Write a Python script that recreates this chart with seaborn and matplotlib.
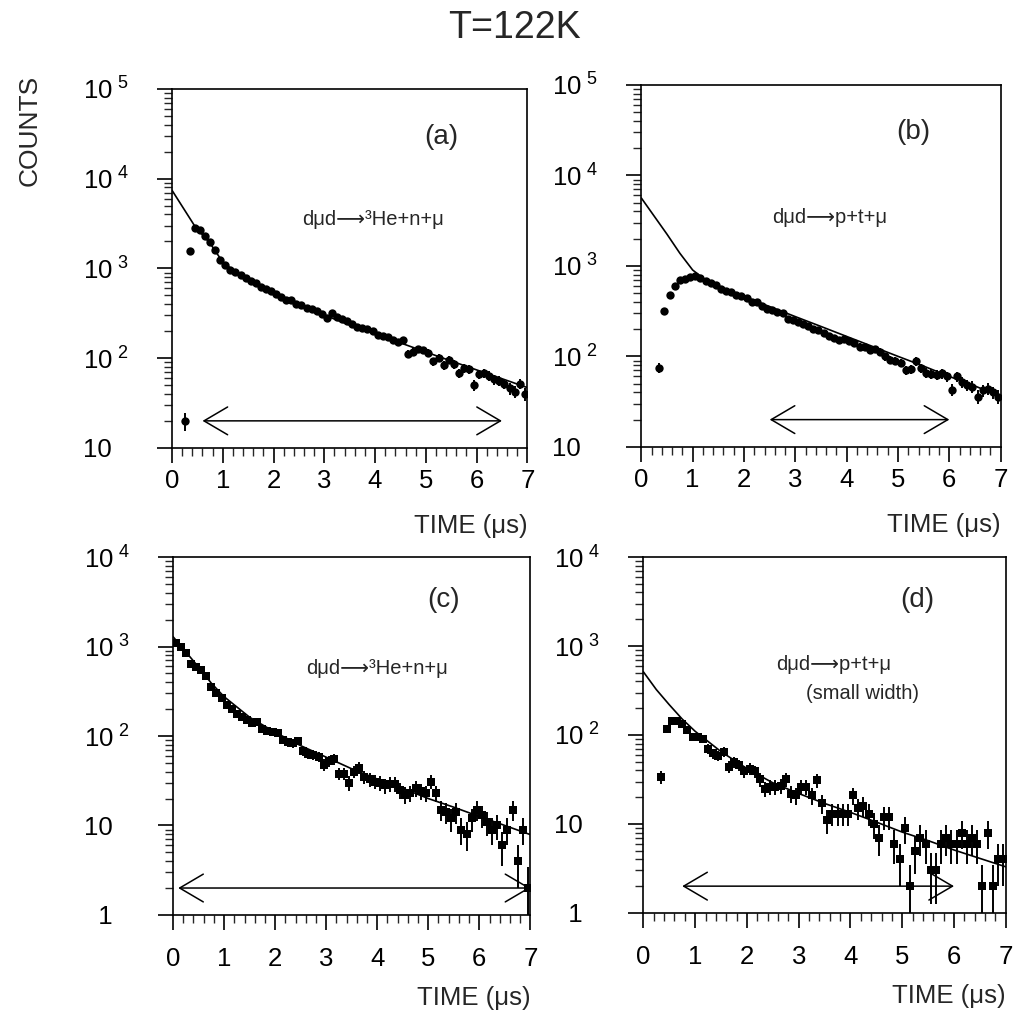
import numpy as np
import pandas as pd
import matplotlib
matplotlib.use("Agg")
import matplotlib.pyplot as plt
from matplotlib.ticker import LogLocator, MultipleLocator, NullFormatter
import seaborn as sns

# ---------------- data ----------------
a_t = [0.25, 0.35, 0.45, 0.55, 0.65, 0.75, 0.85, 0.95, 1.05, 1.15, 1.25, 1.35, 1.45, 1.55, 1.65,
       1.75, 1.85, 1.95, 2.05, 2.15, 2.25, 2.35, 2.45, 2.55, 2.65, 2.75, 2.85, 2.95, 3.05, 3.15,
       3.25, 3.35, 3.45, 3.55, 3.65, 3.75, 3.85, 3.95, 4.05, 4.15, 4.25, 4.35, 4.45, 4.55, 4.65,
       4.75, 4.85, 4.95, 5.05, 5.15, 5.25, 5.35, 5.45, 5.55, 5.65, 5.75, 5.85, 5.95, 6.05, 6.15,
       6.25, 6.35, 6.45, 6.55, 6.65, 6.75, 6.85, 6.95]
a_counts = [20, 1550, 2800, 2650, 2300, 1950, 1600, 1250, 1080, 960, 920, 850, 780, 730, 690,
            620, 590, 560, 520, 480, 450, 440, 400, 390, 360, 350, 335, 310, 280, 320,
            290, 270, 260, 240, 220, 215, 210, 200, 180, 178, 172, 160, 150, 158, 112,
            118, 125, 122, 115, 92, 100, 83, 95, 85, 68, 78, 76, 50, 66, 68,
            64, 58, 56, 52, 46, 42, 52, 40]
a_fit_t = [0, 0.45, 0.75, 1.0, 1.25, 1.5, 2.0, 2.5, 3.0, 3.5, 4.0, 4.5, 5.0, 5.5, 6.0, 6.5, 7.0]
a_fit = [7413, 2951, 1905, 1175, 912, 759, 537, 398, 302, 234, 186, 148, 117, 93, 74, 59, 47]

b_t = [0.35, 0.45, 0.55, 0.65, 0.75, 0.85, 0.95, 1.05, 1.15, 1.25, 1.35, 1.45, 1.55, 1.65,
       1.75, 1.85, 1.95, 2.05, 2.15, 2.25, 2.35, 2.45, 2.55, 2.65, 2.75, 2.85, 2.95, 3.05, 3.15,
       3.25, 3.35, 3.45, 3.55, 3.65, 3.75, 3.85, 3.95, 4.05, 4.15, 4.25, 4.35, 4.45, 4.55, 4.65,
       4.75, 4.85, 4.95, 5.05, 5.15, 5.25, 5.35, 5.45, 5.55, 5.65, 5.75, 5.85, 5.95, 6.05, 6.15,
       6.25, 6.35, 6.45, 6.55, 6.65, 6.75, 6.85, 6.95]
b_counts = [75, 316, 480, 600, 700, 720, 750, 770, 740, 680, 640, 610, 560, 530,
            520, 480, 460, 440, 400, 395, 360, 330, 325, 310, 300, 260, 250, 240, 230,
            215, 200, 195, 182, 170, 160, 150, 155, 148, 140, 128, 126, 118, 120, 112,
            100, 92, 90, 85, 70, 72, 88, 74, 66, 64, 63, 65, 60, 43, 60,
            52, 48, 46, 36, 42, 44, 40, 36]
b_fit_t = [0, 0.25, 0.5, 0.75, 1.0, 1.25, 1.5, 2.0, 2.5, 3.0, 3.5, 4.0, 4.5, 5.0, 5.5, 6.0, 6.5, 7.0]
b_fit = [5623, 3548, 2238, 1380, 900, 700, 589, 457, 355, 275, 214, 166, 129, 100, 78, 60, 47, 36]

c_t = [0.05, 0.15, 0.25, 0.35, 0.45, 0.55, 0.65, 0.75, 0.85, 0.95, 1.05, 1.15, 1.25, 1.35, 1.45,
       1.55, 1.65, 1.75, 1.85, 1.95, 2.05, 2.15, 2.25, 2.35, 2.45, 2.55, 2.65, 2.75, 2.85, 2.95,
       3.05, 3.15, 3.25, 3.35, 3.45, 3.55, 3.65, 3.75, 3.85, 3.95, 4.05, 4.15, 4.25, 4.35, 4.45,
       4.55, 4.65, 4.75, 4.85, 4.95, 5.05, 5.15, 5.25, 5.35, 5.45, 5.55, 5.65, 5.75, 5.85, 5.95,
       6.05, 6.15, 6.25, 6.35, 6.45, 6.55, 6.65, 6.75, 6.85, 6.95]
c_counts = [1100, 1000, 850, 630, 590, 550, 470, 355, 300, 265, 220, 200, 178, 165, 150,
            138, 145, 120, 115, 112, 107, 90, 85, 83, 89, 68, 63, 62, 59, 48,
            52, 55, 38, 38, 30, 40, 44, 35, 33, 31, 30, 28, 29, 29, 25,
            22, 23, 26, 24, 23, 31, 23, 15, 14, 12, 14, 9, 8, 12, 15,
            13, 11, 9, 10, 6, 9, 15, 4, 9, 2]
c_fit_t = [0, 0.25, 0.5, 0.75, 1.0, 1.5, 2.0, 2.5, 3.0, 3.5, 4.0, 4.5, 5.0, 5.5, 6.0, 6.5, 7.0]
c_fit = [1288, 871, 589, 389, 275, 162, 110, 78, 58, 43, 33, 26, 20, 16, 12.6, 10, 7.9]

d_t = [0.35, 0.45, 0.55, 0.65, 0.75, 0.85, 0.95, 1.05, 1.15, 1.25, 1.35, 1.45, 1.55, 1.65,
       1.75, 1.85, 1.95, 2.05, 2.15, 2.25, 2.35, 2.45, 2.55, 2.65, 2.75, 2.85, 2.95, 3.05, 3.15,
       3.25, 3.35, 3.45, 3.55, 3.65, 3.75, 3.85, 3.95, 4.05, 4.15, 4.25, 4.35, 4.45, 4.55, 4.65,
       4.75, 4.85, 4.95, 5.05, 5.15, 5.25, 5.35, 5.45, 5.55, 5.65, 5.75, 5.85, 5.95, 6.05, 6.15,
       6.25, 6.35, 6.45, 6.55, 6.65, 6.75, 6.85, 6.95]
d_counts = [34, 117, 145, 145, 132, 115, 96, 96, 90, 70, 62, 58, 65, 44,
            50, 46, 39, 42, 39, 32, 25, 26, 26, 27, 32, 22, 21, 26, 26,
            21, 31, 17, 11, 13, 13, 13, 13, 21, 15, 16, 13, 10, 7, 12,
            12, 6, 4, 9, 2, 5, 7, 6, 3, 3, 6, 7, 6, 6, 8,
            6, 7, 6, 2, 8, 2, 4, 4]
d_fit_t = [0, 0.25, 0.5, 0.75, 1.0, 1.5, 2.0, 2.5, 3.0, 3.5, 4.0, 4.5, 5.0, 5.5, 6.0, 6.5, 7.0]
d_fit = [513, 324, 219, 151, 110, 65, 42, 29, 22, 17, 13.5, 10.5, 8.1, 6.5, 5.1, 4.1, 3.3]

top_yticks = [10, 1e2, 1e3, 1e4, 1e5]
top_ylabels = ["10", "10$^{\\ 2}$", "10$^{\\ 3}$", "10$^{\\ 4}$", "10$^{\\ 5}$"]
bot_yticks = [1, 10, 1e2, 1e3, 1e4]
bot_ylabels = ["  1", "10", "10$^{\\ 2}$", "10$^{\\ 3}$", "10$^{\\ 4}$"]
x_ticks = [0, 1, 2, 3, 4, 5, 6, 7]

panel_tags = ["(a)", "(b)", "(c)", "(d)"]
reactions = ["d\u03bcd\u27f6\u00b3He+n+\u03bc", "d\u03bcd\u27f6p+t+\u03bc",
             "d\u03bcd\u27f6\u00b3He+n+\u03bc", "d\u03bcd\u27f6p+t+\u03bc"]
arrow_ranges = [(0.6, 6.5, 20), (2.5, 6.0, 20), (0.1, 7.0, 2), (0.75, 6.0, 2)]

# ---------------- style ----------------
sns.set_style("ticks")
plt.rcParams["font.family"] = ["Liberation Sans", "DejaVu Sans"]
plt.rcParams["mathtext.fontset"] = "custom"
plt.rcParams["mathtext.rm"] = "Liberation Sans"
plt.rcParams["mathtext.default"] = "regular"

fig = plt.figure(figsize=(10.18, 10.11), dpi=100)

panels = [
    dict(rect=[0.169, 0.557, 0.349, 0.355], t=a_t, c=a_counts, ft=a_fit_t, f=a_fit,
         marker="o", s=36, ylim=(10, 1e5), yt=top_yticks, yl=top_ylabels, xpad=4,
         tag_pos=(5.3, 10**4.46), rx_pos=(3.95, 10**3.54), xlabpad=15),
    dict(rect=[0.630, 0.558, 0.353, 0.358], t=b_t, c=b_counts, ft=b_fit_t, f=b_fit,
         marker="o", s=36, ylim=(10, 1e5), yt=top_yticks, yl=top_ylabels, xpad=4,
         tag_pos=(5.3, 10**4.48), rx_pos=(3.67, 10**3.53), xlabpad=15),
    dict(rect=[0.170, 0.095, 0.351, 0.354], t=c_t, c=c_counts, ft=c_fit_t, f=c_fit,
         marker="s", s=34, ylim=(1, 1e4), yt=bot_yticks, yl=bot_ylabels, xpad=12,
         tag_pos=(5.3, 10**3.52), rx_pos=(4.0, 10**2.76), xlabpad=11),
    dict(rect=[0.632, 0.097, 0.356, 0.352], t=d_t, c=d_counts, ft=d_fit_t, f=d_fit,
         marker="s", s=34, ylim=(1, 1e4), yt=bot_yticks, yl=bot_ylabels, xpad=12,
         tag_pos=(5.3, 10**3.52), rx_pos=(3.67, 10**2.79), xlabpad=11),
]

for i, p in enumerate(panels):
    ax = fig.add_axes(p["rect"])
    df = pd.DataFrame({"t": p["t"], "counts": p["c"]})
    df["err"] = np.sqrt(df["counts"])
    fit = pd.DataFrame({"t": p["ft"], "fit": p["f"]})

    ax.set_yscale("log")
    ax.errorbar(df["t"], df["counts"], yerr=df["err"], fmt="none", ecolor="black",
                elinewidth=1.4, capsize=0, zorder=2)
    sns.scatterplot(data=df, x="t", y="counts", marker=p["marker"], s=p["s"],
                    color="black", edgecolor="black", linewidth=0, ax=ax, zorder=3)
    sns.lineplot(data=fit, x="t", y="fit", color="black", lw=1.2, ax=ax, zorder=4)

    ax.set_xlim(0, 7)
    ax.set_ylim(*p["ylim"])
    ax.set_xticks(x_ticks)
    ax.set_xticklabels([str(v) for v in x_ticks])
    ax.xaxis.set_minor_locator(MultipleLocator(0.2))
    ax.yaxis.set_minor_locator(LogLocator(base=10, subs=(2, 3, 4, 5, 6, 7, 8, 9)))
    ax.yaxis.set_minor_formatter(NullFormatter())
    ax.set_yticks(p["yt"])
    ax.set_yticklabels(p["yl"])
    ax.set_ylim(*p["ylim"])

    ax.tick_params(axis="both", which="major", direction="out", length=11, width=1.2,
                   labelsize=18.5, colors="black")
    ax.tick_params(axis="both", which="minor", direction="out", length=5.5, width=1.0)
    ax.tick_params(axis="x", which="major", pad=p["xpad"])
    ax.tick_params(axis="y", which="major", pad=53)
    plt.setp(ax.get_yticklabels(), ha="left")
    for sp in ax.spines.values():
        sp.set_linewidth(1.2)
        sp.set_color("black")

    ax.set_ylabel("")
    ax.set_xlabel("TIME (\u03bcs)", loc="right", fontsize=18.5, labelpad=p["xlabpad"])

    ax.text(*p["tag_pos"], panel_tags[i], fontsize=20, ha="center", va="center")
    ax.text(*p["rx_pos"], reactions[i], fontsize=14.5, ha="center", va="center")
    if i == 3:
        ax.text(4.24, 10**2.47, "(small width)", fontsize=14.5, ha="center", va="center")

    x1, x2, yv = arrow_ranges[i]
    ax.annotate("", xy=(x2, yv), xytext=(x1, yv),
                arrowprops=dict(arrowstyle="<->,head_length=0.85,head_width=0.5",
                                lw=1.1, color="black", shrinkA=0, shrinkB=0,
                                mutation_scale=20))

fig.text(0.505, 0.972, "T=122K", ha="center", va="center", fontsize=27)
fig.text(0.029, 0.871, "COUNTS", rotation=90, ha="center", va="center", fontsize=19)

fig.savefig("out.png", dpi=100)
